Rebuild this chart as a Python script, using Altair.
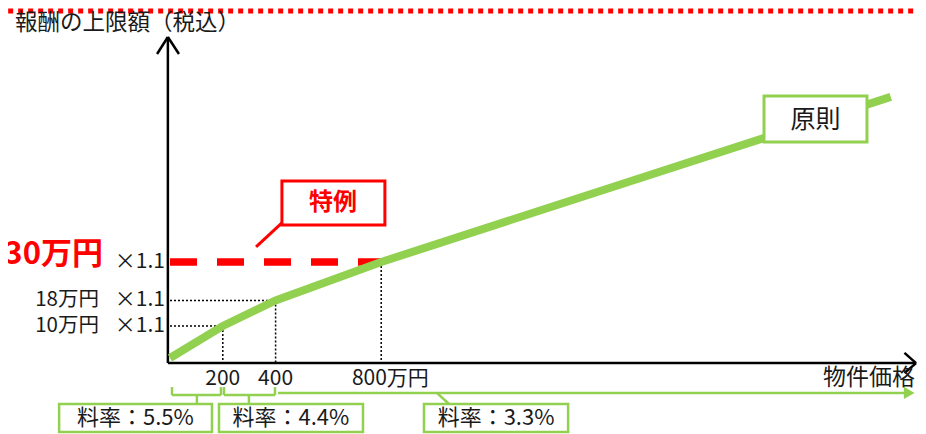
import altair as alt
import pandas as pd

FONT = "Noto Sans CJK JP"
GREEN = "#92D050"
RED = "#FF0000"
INK = "#1a1a1a"

# ---- main data (price in 万円, fee cap in 万円) ----
price = [0, 200, 400, 800, 2730]
fee = [0, 10, 18, 30, 81.6]
special_level = 30
tick_prices = [200, 400]
tick_labels = ["200", "400"]
last_tick_label = "800万円"
y_levels = [10, 18, 30]
y_labels = ["10万円", "18万円", "30万円"]
rate_labels = ["料率：5.5%", "料率：4.4%", "料率：3.3%"]

xs = alt.Scale(domain=[-613.6, 2833.3], nice=False, zero=False)
ys = alt.Scale(domain=[-23.75, 109.375], nice=False, zero=False)


def X(f="x"):
    return alt.X(f"{f}:Q", scale=xs, axis=None)


def Y(f="y"):
    return alt.Y(f"{f}:Q", scale=ys, axis=None)


def segs(rows):
    return pd.DataFrame(rows, columns=["x", "y", "x2", "y2"])


def rules(df, **kw):
    return alt.Chart(df).mark_rule(**kw).encode(
        x=X("x"), y=Y("y"), x2=alt.X2("x2:Q"), y2=alt.Y2("y2:Q"))


def texts(df, **kw):
    return alt.Chart(df).mark_text(font=FONT, baseline="middle", **kw).encode(
        x=X("x"), y=Y("y"), text="t:N")


def boxes(df, **kw):
    return alt.Chart(df).mark_rect(fill="white", **kw).encode(
        x=X("x"), y=Y("y"), x2=alt.X2("x2:Q"), y2=alt.Y2("y2:Q"))


# top dotted border
top_border = rules(segs([[-613, 108.4, 2834, 108.4]]),
                   color=RED, strokeWidth=5, strokeDash=[5, 5])

title = texts(pd.DataFrame({"x": [-587], "y": [104.7], "t": ["報酬の上限額（税込）"]}),
              align="left", fontSize=22.5, color=INK)

# axes with arrow heads
axes = rules(segs([
    [-8, -1.6, -8, 100.3],
    [-8, 100.3, -49, 95],
    [-8, 100.3, 34, 95],
    [-8, -1.6, 2826, -1.6],
    [2826, -1.6, 2782, 1.6],
    [2826, -1.6, 2782, -4.7],
]), color="black", strokeWidth=2.5)

# dotted guides
guide_rows = []
for p, f in zip(price[1:4], fee[1:4]):
    if p != 800:
        guide_rows.append([0, f, p, f])
    guide_rows.append([p, f, p, -1.6])
guides = rules(segs(guide_rows), color="black", strokeWidth=1.5, strokeDash=[2, 2])

special = rules(segs([[0, special_level, 800, special_level]]),
                color=RED, strokeWidth=7.5, strokeDash=[27, 20])

main_line = alt.Chart(pd.DataFrame({"x": price, "y": fee})).mark_line(
    color=GREEN, strokeWidth=8, strokeCap="butt").encode(x=X("x"), y=Y("y"))

# 特例 callout
leader = rules(segs([[424, 42.2, 326, 34.7]]), color=RED, strokeWidth=3)
tokurei_box = boxes(segs([[424, 55.3, 814, 41.6]]), stroke=RED, strokeWidth=3)
tokurei_text = texts(pd.DataFrame({"x": [617], "y": [48.4], "t": ["特例"]}),
                     align="center", fontSize=24, fontWeight="bold", color=RED)

# 原則 callout
gensoku_box = boxes(segs([[2250, 81.9, 2640, 67.5]]), stroke=GREEN, strokeWidth=3)
gensoku_text = texts(pd.DataFrame({"x": [2445], "y": [74.4], "t": ["原則"]}),
                     align="center", fontSize=25, color=INK)

# y labels
times_lbl = texts(pd.DataFrame({"x": [-19] * 3, "y": y_levels, "t": ["×1.1"] * 3}),
                  align="right", fontSize=21, color=INK)
yen_lbl = texts(pd.DataFrame({"x": [-269, -269], "y": y_levels[:2], "t": y_labels[:2]}),
                align="right", fontSize=20.5, color=INK)
big_lbl = texts(pd.DataFrame({"x": [-254], "y": [32.2], "t": [y_labels[2]]}),
                align="right", fontSize=31, fontWeight="bold", color=RED)

# x labels
x_lbl = texts(pd.DataFrame({"x": tick_prices, "y": [-6.6] * 2, "t": tick_labels}),
              align="center", fontSize=21, color=INK)
x_lbl2 = texts(pd.DataFrame({"x": [689], "y": [-6.6], "t": [last_tick_label]}),
               align="left", fontSize=21, color=INK)
x_title = texts(pd.DataFrame({"x": [2822], "y": [-6.3], "t": ["物件価格"]}),
                align="right", fontSize=23, color=INK)

# brackets and pointers
bracket = rules(segs([
    [7.6, -9.1, 7.6, -11.6], [7.6, -11.6, 193, -11.6], [193, -11.6, 193, -9.1],
    [102, -11.6, 102, -14.4],
    [204.5, -9.1, 204.5, -11.6], [204.5, -11.6, 397.7, -11.6], [397.7, -11.6, 397.7, -9.1],
    [299, -11.6, 299, -14.4],
    [409, -10.9, 2790, -10.9],
    [1011, -10.9, 1061, -14.7],
]), color=GREEN, strokeWidth=2.5)
arrow_head = alt.Chart(pd.DataFrame({"x": [2800], "y": [-10.9]})).mark_point(
    shape="triangle-right", filled=True, color=GREEN, size=150, opacity=1
).encode(x=X("x"), y=Y("y"))

rate_boxes = boxes(segs([
    [-420, -14.4, 159, -23.1],
    [185.6, -14.4, 731, -23.1],
    [962, -14.4, 1508, -23.1],
]), stroke=GREEN, strokeWidth=2.5)
rate_text = texts(pd.DataFrame({"x": [-131, 458, 1235], "y": [-18.8] * 3, "t": rate_labels}),
                  align="center", fontSize=22, color=INK)

chart = alt.layer(
    top_border, title, guides, axes, special, main_line,
    leader, tokurei_box, tokurei_text, gensoku_box, gensoku_text,
    times_lbl, yen_lbl, big_lbl, x_lbl, x_lbl2, x_title,
    bracket, arrow_head, rate_boxes, rate_text,
).properties(
    width=910, height=426, padding=0,
    autosize=alt.AutoSizeParams(type="none"),
    background="white",
).configure_view(stroke=None)

chart.save("out.html", embed_options={"renderer": "svg", "actions": False})
